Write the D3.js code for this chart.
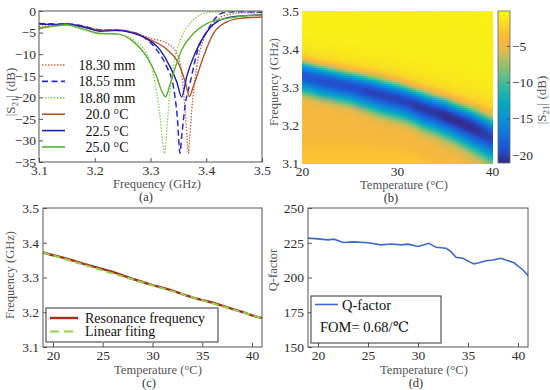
<!DOCTYPE html>
<html><head><meta charset="utf-8">
<script src="https://cdn.jsdelivr.net/npm/d3@7/dist/d3.min.js"></script>
<style>
body{margin:0;background:#fff;}
svg{display:block;font-family:"Liberation Serif","DejaVu Serif",serif;}
svg text{font-family:"Liberation Serif","DejaVu Serif",serif !important;}
</style></head><body>
<svg id="chart" width="550" height="390"></svg>
<script>
// ================= DATA =================
// (a) |S21| spectra (GHz, dB)
const aNames = ["18.30 mm","18.55 mm","18.80 mm","20.0 °C","22.5 °C","25.0 °C"];
const fS1830 = [3.10,3.13,3.15,3.18,3.21,3.24,3.27,3.30,3.33,3.347,3.356,3.362,3.366,3.368,3.370,3.374,3.383,3.395,3.413,3.437,3.47,3.50];
const dbS1830 = [-3.6,-3.2,-3.0,-3.5,-4.3,-4.3,-5.0,-6.3,-7.5,-9.8,-14.5,-23.0,-30.0,-33.0,-30.0,-23.0,-12.9,-6.7,-2.9,-0.9,-0.4,-0.4];
const fS1855 = [3.10,3.13,3.15,3.18,3.21,3.24,3.27,3.287,3.311,3.329,3.341,3.348,3.353,3.356,3.362,3.371,3.385,3.401,3.419,3.43,3.46,3.50];
const dbS1855 = [-2.9,-3.0,-3.0,-3.5,-4.4,-4.5,-5.0,-6.0,-9.0,-12.9,-17.5,-24.5,-33.0,-29.0,-22.0,-16.7,-9.0,-4.8,-1.3,-0.4,-0.15,-0.3];
const fS1880 = [3.10,3.13,3.15,3.18,3.21,3.24,3.269,3.293,3.305,3.317,3.322,3.325,3.328,3.332,3.341,3.356,3.377,3.401,3.44,3.50];
const dbS1880 = [-4.2,-3.5,-3.3,-4.4,-5.3,-5.4,-6.7,-9.8,-14.5,-24.5,-30.5,-33.0,-30.0,-23.0,-12.9,-6.0,-2.1,-0.4,-0.15,-0.1];
const fM200 = [3.10,3.13,3.15,3.18,3.21,3.24,3.27,3.30,3.33,3.353,3.362,3.370,3.376,3.383,3.395,3.413,3.437,3.461,3.50];
const dbM200 = [-4.0,-3.4,-3.1,-3.7,-4.5,-4.4,-5.0,-6.7,-9.0,-12.9,-16.3,-19.8,-17.8,-15.2,-10.6,-5.2,-2.5,-1.7,-1.4];
const fM225 = [3.10,3.13,3.15,3.18,3.21,3.24,3.27,3.287,3.317,3.335,3.347,3.356,3.365,3.380,3.395,3.419,3.449,3.50];
const dbM225 = [-3.0,-3.1,-3.0,-3.7,-4.7,-4.5,-5.2,-6.0,-9.0,-12.9,-16.4,-19.9,-15.2,-9.8,-6.0,-2.5,-1.3,-0.9];
const fM250 = [3.10,3.13,3.15,3.18,3.21,3.24,3.269,3.293,3.311,3.320,3.327,3.334,3.341,3.356,3.377,3.401,3.437,3.50];
const dbM250 = [-4.0,-3.4,-3.2,-4.2,-5.2,-5.3,-7.1,-10.6,-15.2,-18.5,-19.9,-17.5,-14.5,-9.0,-5.2,-2.9,-1.7,-0.9];
const aXTicks = [3.1,3.2,3.3,3.4,3.5];
const aYTicks = [0,-5,-10,-15,-20,-25,-30,-35];

// (b) |S21| map vs temperature: resonance centre, depth, width per temperature; dip shape vs offset
const hmTemps  = [20,21,22,23,24,25,26,27,28,29,30,31,32,33,34,35,36,37,38,39,40];
const hmCenter = [3.333,3.327,3.320,3.315,3.310,3.305,3.298,3.292,3.285,3.278,3.272,3.265,3.255,3.245,3.237,3.228,3.218,3.207,3.196,3.183,3.170];
const hmDepth  = [-19,-19,-19.5,-19.5,-19.5,-19.5,-19.5,-20,-20,-20,-20,-20,-20.5,-20.5,-20.5,-21,-21,-21,-21,-20.5,-20];
const hmWidth  = [1.0,1.0,1.0,1.0,1.0,1.0,1.05,1.05,1.1,1.1,1.1,1.1,1.1,1.15,1.15,1.2,1.2,1.25,1.3,1.35,1.4];
const hmOffset = [-0.40,-0.08,-0.06,-0.05,-0.04,-0.03,-0.02,-0.01,0,0.01,0.02,0.03,0.04,0.05,0.06,0.08,0.12,0.40];
const hmShape  = [-4,-4.6,-6,-8.5,-11.5,-15,-17.5,-19.5,-20,-19,-16,-11,-6.5,-3.4,-2,-1.3,-0.9,-0.6];
const hmBgFreq  = [3.10,3.13,3.16,3.20,3.24,3.28,3.50];
const hmBgBelow = [-3.2,-3.4,-3.9,-4.5,-4.5,-4.1,-4.0];
const bXTicks = [20,30,40];
const bYTicks = [3.1,3.2,3.3,3.4,3.5];
const cbTicks = [-5,-10,-15,-20];
const cbRange = [-21.1,-0.2];

// (c) resonance frequency vs temperature
const cTemps   = [19,20,21,22,23,24,25,26,27,28,29,30,31,32,33,34,35,36,37,38,39,40,41];
const cResFreq = [3.372,3.364,3.357,3.349,3.340,3.332,3.324,3.316,3.306,3.296,3.287,3.278,3.271,3.262,3.252,3.243,3.235,3.228,3.219,3.210,3.201,3.191,3.183];
const cFitTemps = [19,41];
const cFitFreq  = [3.372,3.183];
const cXTicks = [20,25,30,35,40];
const cYTicks = [3.1,3.2,3.3,3.4,3.5];

// (d) Q-factor vs temperature
const dTemps = [19,20,21,21.6,22.5,23.6,25,26.3,27.3,28.3,29,30,30.6,31.1,31.8,32.8,33.3,33.8,34.5,35.1,35.6,36.1,36.8,37.5,38.3,39,39.6,40.5,41];
const dQ     = [228.3,227.8,227.1,227.6,225.2,225.6,225.0,223.5,224.1,223.5,224.0,222.3,223.5,224.6,221.7,221.0,218.6,214.5,213.8,211.4,209.8,210.6,212.0,212.6,213.8,212.1,210.6,205.4,201.5];
const dXTicks = [20,25,30,35,40];
const dYTicks = [150,175,200,225,250];

// ================= STYLES =================
const FONT = '"Liberation Serif","DejaVu Serif",serif';
const aStyles = [
  {color:"#c8683a", dash:"1.5,1.5", w:1.3},
  {color:"#2b2bd6", dash:"6,3.5", w:1.5},
  {color:"#86d04a", dash:"1.5,1.5", w:1.3},
  {color:"#b5532b", dash:null, w:1.4},
  {color:"#1c1cb8", dash:null, w:1.4},
  {color:"#58b02e", dash:null, w:1.4}
];
const aSeries = [
  {f:fS1830, v:dbS1830},{f:fS1855, v:dbS1855},{f:fS1880, v:dbS1880},
  {f:fM200, v:dbM200},{f:fM225, v:dbM225},{f:fM250, v:dbM250}
].map((s,i)=>({name:aNames[i], pts:s.f.map((f,j)=>[f,s.v[j]]), style:aStyles[i]}));

const svg = d3.select("#chart");
const TICK = "#2e2e2e", LAB = "#555", AX = "#555";

function styleAxis(g, fs){
  g.attr("font-family", FONT);
  g.select(".domain").remove();
  g.selectAll(".tick line").attr("stroke", AX);
  g.selectAll(".tick text").attr("fill", TICK).attr("font-family", FONT).style("font-size", fs+"px");
}
function frame(x0,y0,x1,y1){
  svg.append("rect").attr("x",x0).attr("y",y0).attr("width",x1-x0).attr("height",y1-y0)
    .attr("fill","none").attr("stroke",AX).attr("stroke-width",1);
}
function txt(x,y,s,fs,col,anchor){
  return svg.append("text").attr("x",x).attr("y",y).attr("dy","0.35em").attr("text-anchor",anchor||"start")
    .attr("fill",col||"#111").attr("font-family",FONT).style("font-size",fs+"px").text(s);
}
function label(s,x,y,rot,fs,col){
  const t = svg.append("text").attr("text-anchor","middle").attr("fill",col||LAB)
    .attr("font-family",FONT).style("font-size",(fs||13)+"px");
  if(rot){ t.attr("transform",`translate(${x},${y}) rotate(-90)`).attr("dy","0.35em"); }
  else { t.attr("x",x).attr("y",y); }
  t.text(s); return t;
}
function s21Label(x,y){
  const t = svg.append("text").attr("text-anchor","middle").attr("fill",LAB).attr("font-family",FONT).style("font-size","13px")
    .attr("transform",`translate(${x},${y}) rotate(-90)`).attr("dy","0.35em");
  t.append("tspan").text("|S");
  t.append("tspan").text("21").style("font-size","9px").attr("dy","3");
  t.append("tspan").text("| (dB)").attr("dy","-3");
}

// ================= PANEL (a) =================
const xA = d3.scaleLinear([3.1,3.5],[39,262]);
const yA = d3.scaleLinear([-35,0],[162,11]);
const defs = svg.append("defs");
defs.append("clipPath").attr("id","clipA").append("rect")
  .attr("x",xA(3.1)).attr("y",yA(0)).attr("width",xA(3.5)-xA(3.1)).attr("height",yA(-35)-yA(0));
const lineA = d3.line().x(d=>xA(d[0])).y(d=>yA(d[1])).curve(d3.curveMonotoneX);
svg.append("g").attr("clip-path","url(#clipA)").selectAll("path").data(aSeries).join("path")
  .attr("d",d=>lineA(d.pts)).attr("fill","none")
  .attr("stroke",d=>d.style.color).attr("stroke-width",d=>d.style.w)
  .attr("stroke-dasharray",d=>d.style.dash);
svg.append("g").attr("transform",`translate(0,${yA(-35)})`)
  .call(d3.axisBottom(xA).tickValues(aXTicks).tickFormat(d3.format(".1f")).tickSizeInner(-4).tickSizeOuter(0).tickPadding(3))
  .call(g=>styleAxis(g,13.5));
svg.append("g").attr("transform",`translate(${xA(3.1)},0)`)
  .call(d3.axisLeft(yA).tickValues(aYTicks).tickFormat(d3.format("d")).tickSizeInner(-4).tickSizeOuter(0).tickPadding(3))
  .call(g=>styleAxis(g,13.5));
frame(xA(3.1),yA(0),xA(3.5),yA(-35));
// legend (a)
aSeries.forEach((s,i)=>{
  const y = 65 + i*16.4;
  svg.append("line").attr("x1",42).attr("x2",65).attr("y1",y).attr("y2",y)
    .attr("stroke",s.style.color).attr("stroke-width",s.style.w+0.2).attr("stroke-dasharray",s.style.dash);
  txt(107,y,s.name,14,"#111","middle");
});
label("Frequency (GHz)",157,188,false,12.5);
label("(a)",146,201,false,12.5,"#333");
s21Label(10,92);

// ================= PANEL (b) =================
const xB = d3.scaleLinear([20,40],[302,492]);
const yB = d3.scaleLinear([3.1,3.5],[163,11]);
const parT = [0,6,13,19,25,31,38,44,48,52,56,63].map(i=>i/63);
const parC = ["#352a87","#2053d4","#1079da","#0c93d2","#07a9c2","#2eb7a4","#7cbf7b","#bfbd5c","#eeb845","#fbb93a","#f9cf2c","#f9fb0e"];
const color = d3.scaleLinear().domain(parT.map(t=>cbRange[0]+t*(cbRange[1]-cbRange[0]))).range(parC)
  .interpolate(d3.interpolateRgb).clamp(true);
const shapeAt = d3.scaleLinear(hmOffset,hmShape).clamp(true);
const centerAt = d3.scaleLinear(hmTemps,hmCenter);
const depthAt = d3.scaleLinear(hmTemps,hmDepth);
const widthAt = d3.scaleLinear(hmTemps,hmWidth);
const bgAt = d3.scaleLinear(hmBgFreq,hmBgBelow).clamp(true);
function s21(T,f){
  const dn = (f-centerAt(T))/widthAt(T);
  let v = shapeAt(dn)*(depthAt(T)/-20);
  if(dn < -0.08){ const t=Math.min(1,(-0.08-dn)/0.05); v=(1-t)*v+t*bgAt(f); }
  return v;
}
const nx=95, ny=76, dT=20/nx, dF=0.4/ny;
const cells=[];
for(let i=0;i<nx;i++) for(let j=0;j<ny;j++){
  const t0=20+i*dT, f0=3.1+j*dF;
  cells.push({t0, t1:t0+dT, f0, f1:f0+dF, v:s21(t0+dT/2, f0+dF/2)});
}
svg.append("g").attr("shape-rendering","crispEdges").selectAll("rect").data(cells).join("rect")
  .attr("x",d=>xB(d.t0)).attr("y",d=>yB(d.f1))
  .attr("width",d=>xB(d.t1)-xB(d.t0)+0.5).attr("height",d=>yB(d.f0)-yB(d.f1)+0.5)
  .attr("fill",d=>color(d.v));
svg.append("g").attr("transform",`translate(0,${yB(3.1)})`)
  .call(d3.axisBottom(xB).tickValues(bXTicks).tickSize(0).tickPadding(3))
  .call(g=>styleAxis(g,13.5));
svg.append("g").attr("transform",`translate(${xB(20)},0)`)
  .call(d3.axisLeft(yB).tickValues(bYTicks).tickFormat(d3.format(".1f")).tickSize(0).tickPadding(3))
  .call(g=>styleAxis(g,13.5));
// colorbar
const yCb = d3.scaleLinear(cbRange,[163,11]);
const grad = defs.append("linearGradient").attr("id","parula")
  .attr("x1",0).attr("y1",1).attr("x2",0).attr("y2",0);
parT.forEach((t,i)=>grad.append("stop").attr("offset",t).attr("stop-color",parC[i]));
svg.append("rect").attr("x",498).attr("y",yCb(cbRange[1])).attr("width",12)
  .attr("height",yCb(cbRange[0])-yCb(cbRange[1])).attr("fill","url(#parula)")
  .attr("stroke","#666").attr("stroke-width",0.8);
svg.append("g").attr("transform","translate(510,0)")
  .call(d3.axisRight(yCb).tickValues(cbTicks).tickFormat(d3.format("d")).tickSizeInner(-3).tickSizeOuter(0).tickPadding(2))
  .call(g=>styleAxis(g,13.5));
label("Temperature (°C)",404,189,false,12.5);
label("(b)",391,201.5,false,12.5,"#333");
label("Frequency (GHz)",274,82,true,12.5);
s21Label(541,100);

// ================= PANEL (c) =================
const xC = d3.scaleLinear([19,41],[43,262]);
const yC = d3.scaleLinear([3.1,3.5],[347,208]);
const lineC = d3.line().x(d=>xC(d[0])).y(d=>yC(d[1]));
svg.append("path").attr("d",lineC(cTemps.map((t,i)=>[t,cResFreq[i]])))
  .attr("fill","none").attr("stroke","#a82c1a").attr("stroke-width",2.4);
svg.append("path").attr("d",lineC(cFitTemps.map((t,i)=>[t,cFitFreq[i]])))
  .attr("fill","none").attr("stroke","#8fd344").attr("stroke-width",2).attr("stroke-dasharray","7,4");
svg.append("g").attr("transform",`translate(0,${yC(3.1)})`)
  .call(d3.axisBottom(xC).tickValues(cXTicks).tickSizeInner(-4).tickSizeOuter(0).tickPadding(3))
  .call(g=>styleAxis(g,13.5));
svg.append("g").attr("transform",`translate(${xC(19)},0)`)
  .call(d3.axisLeft(yC).tickValues(cYTicks).tickFormat(d3.format(".1f")).tickSizeInner(-4).tickSizeOuter(0).tickPadding(4))
  .call(g=>styleAxis(g,13.5));
frame(xC(19),yC(3.5),xC(41),yC(3.1));
svg.append("rect").attr("x",46).attr("y",308).attr("width",172).attr("height",34)
  .attr("fill","#fff").attr("stroke","#333").attr("stroke-width",1);
svg.append("line").attr("x1",50).attr("x2",78).attr("y1",318).attr("y2",318).attr("stroke","#a82c1a").attr("stroke-width",2.4);
svg.append("line").attr("x1",50).attr("x2",78).attr("y1",331.5).attr("y2",331.5).attr("stroke","#8fd344").attr("stroke-width",2).attr("stroke-dasharray","9,5");
txt(85,318,"Resonance frequency",14,"#111");
txt(85,331.5,"Linear fiting",14,"#111");
label("Temperature (°C)",158,373.5,false,12.5);
label("(c)",149,387,false,12.5,"#333");
label("Frequency (GHz)",10,275,true,12.5);

// ================= PANEL (d) =================
const xD = d3.scaleLinear([19,41],[308,528]);
const yD = d3.scaleLinear([150,250],[347,208]);
svg.append("path").attr("d",d3.line().x(d=>xD(d[0])).y(d=>yD(d[1]))(dTemps.map((t,i)=>[t,dQ[i]])))
  .attr("fill","none").attr("stroke","#3f68cc").attr("stroke-width",1.6);
svg.append("g").attr("transform",`translate(0,${yD(150)})`)
  .call(d3.axisBottom(xD).tickValues(dXTicks).tickSizeInner(-4).tickSizeOuter(0).tickPadding(3))
  .call(g=>styleAxis(g,13.5));
svg.append("g").attr("transform",`translate(${xD(19)},0)`)
  .call(d3.axisLeft(yD).tickValues(dYTicks).tickSizeInner(-4).tickSizeOuter(0).tickPadding(4))
  .call(g=>styleAxis(g,13.5));
frame(xD(19),yD(250),xD(41),yD(150));
svg.append("rect").attr("x",311).attr("y",296).attr("width",130).attr("height",47)
  .attr("fill","#fff").attr("stroke","#333").attr("stroke-width",1);
svg.append("line").attr("x1",315).attr("x2",338).attr("y1",304.5).attr("y2",304.5).attr("stroke","#3f68cc").attr("stroke-width",1.6);
txt(342,304.5,"Q-factor",14.5,"#111");
txt(320,327,"FOM= 0.68/℃",14.5,"#111");
label("Temperature (°C)",424,373.5,false,12.5);
label("(d)",416,387,false,12.5,"#333");
label("Q-factor",273,270,true,12.5);
</script>
</body></html>
